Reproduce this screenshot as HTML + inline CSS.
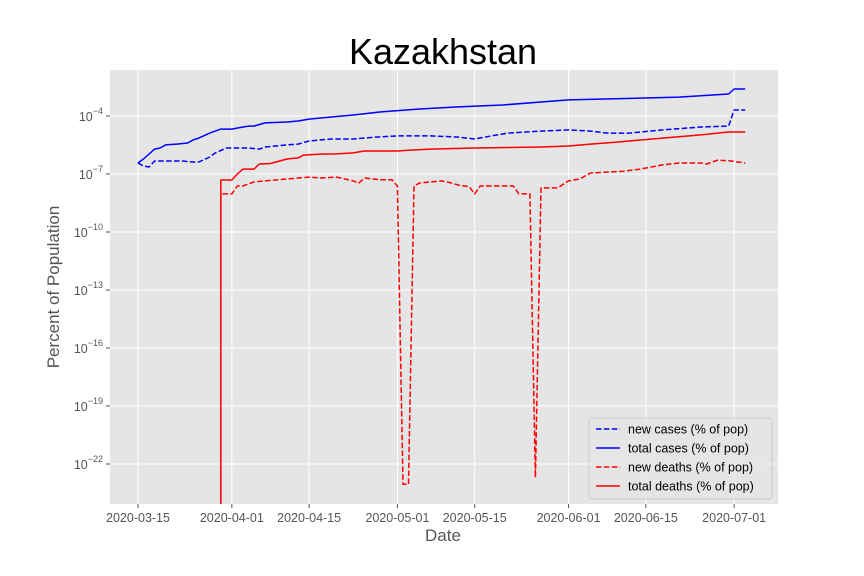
<!DOCTYPE html>
<html><head><meta charset="utf-8"><style>
html,body{margin:0;padding:0;background:#fff;}
svg{display:block;font-family:"Liberation Sans","DejaVu Sans",sans-serif;}
</style></head><body>
<svg id="chart" width="864" height="576" viewBox="0 0 864 576">
<text x="443" y="64" text-anchor="middle" font-size="36" fill="#000">Kazakhstan</text>
<rect x="110" y="70" width="668" height="434" fill="#e5e5e5"/>
<g id="grid"></g>
<g id="ticks"></g>
<g id="series"></g>
<text x="443" y="541" text-anchor="middle" font-size="17" fill="#555">Date</text>
<text transform="translate(59,287) rotate(-90)" text-anchor="middle" font-size="17" fill="#555">Percent of Population</text>
<g id="legend"></g>
</svg>
<script>
const xTickLabels=["2020-03-15","2020-04-01","2020-04-15","2020-05-01","2020-05-15","2020-06-01","2020-06-15","2020-07-01"];
const xTickDays=[0,17,31,47,61,78,92,108];
const yTickExps=[-22,-19,-16,-13,-10,-7,-4];

const totalCasesDays=[0,1,3,4,5,7,9,10,11,13,14,15,17,18,20,21,23,27,29,31,35,39,44,51,58,66,78,98,107,108,110];
const totalCases=[3.7e-7,6.0e-7,1.95e-6,2.2e-6,3.2e-6,3.5e-6,4.0e-6,5.8e-6,7.2e-6,1.3e-5,1.66e-5,2.1e-5,2.1e-5,2.4e-5,3.0e-5,3.0e-5,4.4e-5,4.9e-5,5.5e-5,6.9e-5,8.9e-5,1.12e-4,1.62e-4,2.3e-4,2.95e-4,3.7e-4,6.8e-4,9.5e-4,1.38e-3,2.5e-3,2.5e-3];

const newCasesDays=[0,1,2,3,5,8,10,11,13,14,16,20,22,23,27,29,31,35,39,43,47,53,58,61,64,67,73,78,82,85,89,95,102,107,108,110];
const newCases=[3.7e-7,2.6e-7,2.3e-7,4.7e-7,4.7e-7,4.7e-7,4.2e-7,4.2e-7,7.6e-7,1.23e-6,2.2e-6,2.2e-6,1.95e-6,2.5e-6,3.2e-6,3.5e-6,5.1e-6,6.5e-6,6.5e-6,8.1e-6,9.3e-6,9.3e-6,8.1e-6,6.5e-6,9.3e-6,1.3e-5,1.66e-5,1.9e-5,1.66e-5,1.3e-5,1.3e-5,1.9e-5,2.7e-5,3.0e-5,2.04e-4,2.04e-4];

const totalDeathsDays=[15,15,17,18,19,21,22,24,27,29,30,33,36,39,41,47,49,53,61,73,78,82,87,95,102,105,107,110];
const totalDeaths=[0,4.9e-8,4.9e-8,1e-7,1.8e-7,1.8e-7,3.3e-7,3.5e-7,6.0e-7,6.8e-7,9.5e-7,1.07e-6,1.1e-6,1.23e-6,1.55e-6,1.55e-6,1.7e-6,1.95e-6,2.2e-6,2.5e-6,2.8e-6,3.5e-6,4.5e-6,7.2e-6,1.05e-5,1.3e-5,1.48e-5,1.48e-5];

const newDeathsDays=[15,15,17,18,19,21,23,27,29,31,33,36,39,40,41,44,46,47,48,49,50,51,53,55,56,58,60,61,62,68,69,71,72,73,76,78,80,82,85,88,91,95,98,102,103,105,107,110];
const newDeaths=[0,9.3e-9,9.3e-9,2.4e-8,2.4e-8,3.9e-8,4.4e-8,5.5e-8,6.2e-8,6.9e-8,6.2e-8,6.9e-8,4.4e-8,3.4e-8,6.2e-8,5.0e-8,5.0e-8,2.4e-8,9e-24,9e-24,2.4e-8,3.4e-8,3.9e-8,4.4e-8,3.9e-8,2.7e-8,2.2e-8,9.3e-9,2.4e-8,2.4e-8,9.3e-9,9.3e-9,2e-23,1.9e-8,1.9e-8,4.4e-8,5.5e-8,1.12e-7,1.26e-7,1.4e-7,1.8e-7,2.95e-7,3.7e-7,3.7e-7,3.3e-7,5.2e-7,4.9e-7,3.7e-7];

const NS="http://www.w3.org/2000/svg";
const PL=110,PR=778,PT=70,PB=504;
function xScale(d){return 138+d*5.52;}
function yScale(v){
  if(!(v>0)) return PB+20;
  const l=Math.log10(v);
  return 116-(l+4)*(58/3);
}
function mk(tag,attrs,parent){const e=document.createElementNS(NS,tag);for(const k in attrs)e.setAttribute(k,attrs[k]);parent.appendChild(e);return e;}

const grid=document.getElementById('grid');
const ticks=document.getElementById('ticks');
xTickDays.forEach((d,i)=>{
  const x=xScale(d);
  const gl=mk('line',{x1:x,x2:x,y1:PT,y2:PB,stroke:'#fff','stroke-width':1},grid);
  
  
  mk('line',{x1:x,x2:x,y1:PB,y2:PB+4,stroke:'#555'},ticks);
  const t=mk('text',{x:x,y:PB+18,'text-anchor':'middle','font-size':12.5,fill:'#555'},ticks);
  t.textContent=xTickLabels[i];
  
  
});
yTickExps.forEach(e=>{
  const y=yScale(Math.pow(10,e));
  const gl=mk('line',{x1:PL,x2:PR,y1:y,y2:y,stroke:'#fff','stroke-width':1},grid);
  
  
  mk('line',{x1:PL-4,x2:PL,y1:y,y2:y,stroke:'#555'},ticks);
  const t=mk('text',{x:PL-7,y:y+5,'text-anchor':'end','font-size':12.5,fill:'#555'},ticks);
  
  
  const base=mk('tspan',{},t);base.textContent='10';
  const sup=mk('tspan',{dy:-7,'font-size':9},t);sup.textContent='\u2212'+Math.abs(e);
});

const defs=mk('defs',{},document.getElementById('chart'));
const cp=mk('clipPath',{id:'clip'},defs);
mk('rect',{x:PL,y:PT,width:PR-PL,height:PB-PT},cp);

const series=document.getElementById('series');
function drawLine(days,vals,color,dash,name){
  const pts=days.map((d,i)=>xScale(d).toFixed(1)+','+yScale(vals[i]).toFixed(1)).join(' ');
  const attrs={points:pts,fill:'none',stroke:color,'stroke-width':1.5,'clip-path':'url(#clip)','stroke-linejoin':'round'};
  if(dash)attrs['stroke-dasharray']='5.5,2.4';
  const p=mk('polyline',attrs,series);
  
  
}
drawLine(newCasesDays,newCases,'#0000ff',true,'new-cases-line');
drawLine(totalCasesDays,totalCases,'#0000ff',false,'total-cases-line');
drawLine(newDeathsDays,newDeaths,'#ff0000',true,'new-deaths-line');
drawLine(totalDeathsDays,totalDeaths,'#ff0000',false,'total-deaths-line');

const lg=document.getElementById('legend');
mk('rect',{x:589,y:418,width:183,height:81,rx:3,fill:'#e5e5e5',stroke:'#cccccc','stroke-width':1,'fill-opacity':0.8},lg);
const entries=[["new cases (% of pop)","#0000ff",true],["total cases (% of pop)","#0000ff",false],["new deaths (% of pop)","#ff0000",true],["total deaths (% of pop)","#ff0000",false]];
entries.forEach((en,i)=>{
  const y=429+i*19;
  const g=mk('g',{},lg);
  
  
  const a={x1:596,x2:620,y1:y,y2:y,stroke:en[1],'stroke-width':1.5};
  if(en[2])a['stroke-dasharray']='5.5,2.4';
  mk('line',a,g);
  const t=mk('text',{x:628,y:y+4.5,'font-size':12.5,fill:'#000'},g);
  t.textContent=en[0];
});
</script>
</body></html>
